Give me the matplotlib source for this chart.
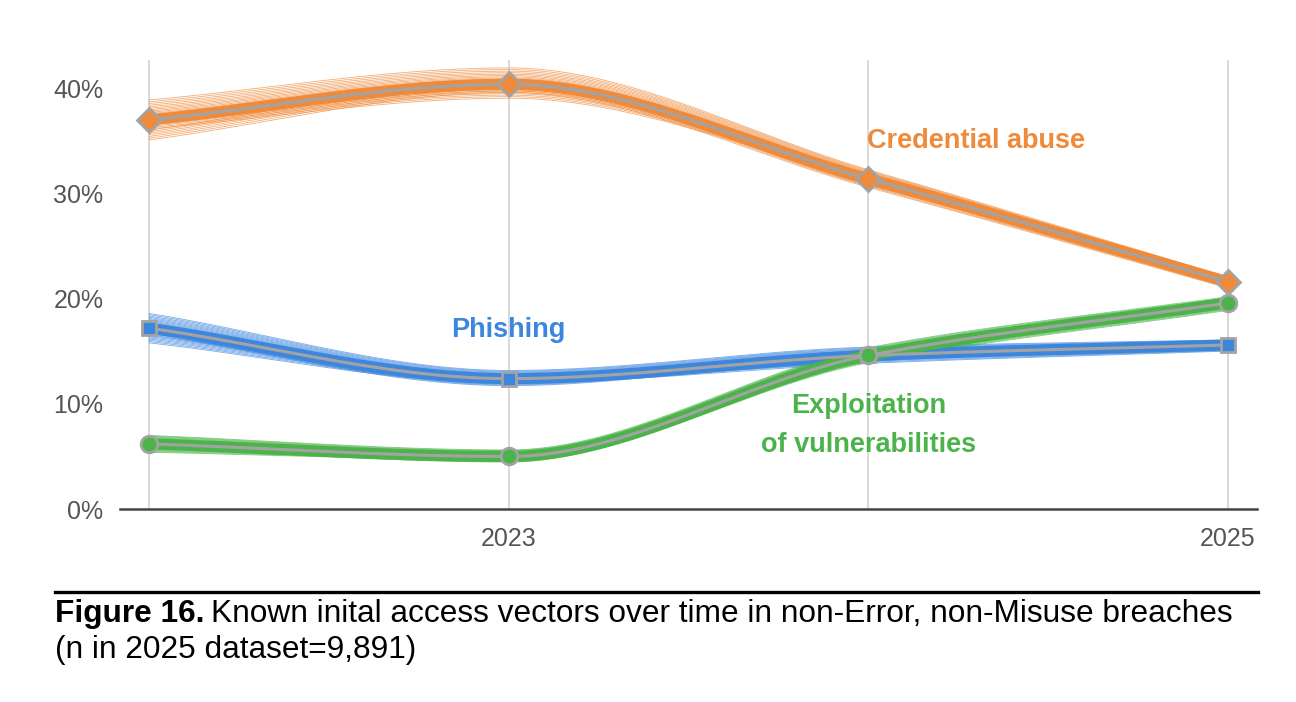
import numpy as np
import matplotlib.pyplot as plt

plt.rcParams['font.family'] = ['Liberation Sans', 'DejaVu Sans']

# data (percent)
years = [2022, 2023, 2024, 2025]
tick_years = [2023, 2025]
credential = [37.0, 40.4, 31.4, 21.6]
phishing = [17.2, 12.4, 14.6, 15.6]
exploitation = [6.2, 5.0, 14.6, 19.6]
# half-width of the spread of the thin sample lines at each year
credential_spread = [1.9, 2.0, 1.4, 0.9]
phishing_spread = [1.4, 1.0, 1.3, 0.9]
exploitation_spread = [0.8, 0.8, 1.2, 1.1]

orange = '#EF8A3A'
blue = '#3D86DE'
green = '#4CB34B'
grey = '#A3A3A3'


# monotone cubic (Fritsch-Carlson) for the smooth lines
def monotone(x, y, xs):
    x = np.asarray(x, float)
    y = np.asarray(y, float)
    h = np.diff(x)
    d = np.diff(y) / h
    m = np.zeros_like(y)
    m[0], m[-1] = d[0], d[-1]
    for i in range(1, len(y) - 1):
        if d[i - 1] * d[i] <= 0:
            m[i] = 0
        else:
            m[i] = 3 * (h[i - 1] + h[i]) / ((2 * h[i] + h[i - 1]) / d[i - 1] + (h[i] + 2 * h[i - 1]) / d[i])
    idx = np.clip(np.searchsorted(x, xs) - 1, 0, len(x) - 2)
    t = (xs - x[idx]) / h[idx]
    h00 = 2 * t**3 - 3 * t**2 + 1
    h10 = t**3 - 2 * t**2 + t
    h01 = -2 * t**3 + 3 * t**2
    h11 = t**3 - t**2
    return h00 * y[idx] + h10 * h[idx] * m[idx] + h01 * y[idx + 1] + h11 * h[idx] * m[idx + 1]


fig = plt.figure(figsize=(12.96, 7.02), dpi=100)
ax = fig.add_axes([0.0926, 0.2749, 0.8773, 0.6396])

xs = np.linspace(years[0], years[-1], 300)
series = [
    (credential, credential_spread, orange, 'D', 12),
    (phishing, phishing_spread, blue, 's', 10),
    (exploitation, exploitation_spread, green, 'o', 12),
]

n_thin = 36
base = np.linspace(-1, 1, n_thin)
fracs = np.sign(base) * np.abs(base) ** 1.6  # most lines near the middle, a few outliers
for vals, spread, color, marker, ms in series:
    vals = np.array(vals)
    spread = np.array(spread)
    for k, f in enumerate(fracs):
        # each thin line leans a little differently at each year so they cross
        g = np.array([f, np.roll(fracs, 7)[k], np.roll(fracs, 15)[k], np.roll(fracs, 23)[k]])
        g = 0.6 * f + 0.4 * g
        ax.plot(xs, monotone(years, vals + g * spread, xs), color=color, lw=0.6, alpha=0.7, zorder=2)
    ax.plot(xs, monotone(years, vals, xs), color=color, lw=8, solid_capstyle='butt', zorder=3)
    ax.plot(xs, monotone(years, vals, xs), color=grey, lw=2.2, zorder=4)
    ax.plot(years, vals, linestyle='none', marker=marker, ms=ms, mfc=color, mec=grey, mew=2, zorder=5)

ax.set_xlim(2021.919, 2025.081)
ax.set_ylim(0, 42.7)
for y in years:
    ax.axvline(y, color='#d9d9d9', lw=1.4, zorder=1)

ax.set_xticks(tick_years)
ax.set_xticklabels([str(y) for y in tick_years])
ax.set_yticks([0, 10, 20, 30, 40])
ax.set_yticklabels(['0%', '10%', '20%', '30%', '40%'])
ax.tick_params(axis='both', length=0, labelsize=18, colors='#555555')
ax.tick_params(axis='x', pad=13)
ax.tick_params(axis='y', pad=12)
for s in ['top', 'right', 'left']:
    ax.spines[s].set_visible(False)
ax.spines['bottom'].set_color('#444444')
ax.spines['bottom'].set_linewidth(1.8)

lab = dict(fontsize=19.5, fontweight='bold', ha='center', va='center')
ax.text(2024.30, 35.0, 'Credential abuse', color=orange, **lab)
ax.text(2023.0, 17.0, 'Phishing', color=blue, **lab)
ax.text(2024.0, 9.8, 'Exploitation', color=green, **lab)
ax.text(2024.0, 6.1, 'of vulnerabilities', color=green, **lab)

# caption
fig.add_artist(plt.Line2D([55 / 1296, 1258 / 1296], [1 - 592 / 702] * 2, color='black', lw=2.4))
t1 = fig.text(55 / 1296, 1 - 614 / 702, 'Figure 16.', fontsize=22.8, fontweight='bold', va='center')
fig.canvas.draw()
bb = t1.get_window_extent()
fig.text(bb.x1 / 1296 + 0.005, 1 - 614 / 702,
         'Known inital access vectors over time in non-Error, non-Misuse breaches',
         fontsize=22.8, va='center')
fig.text(55 / 1296, 1 - 650 / 702, '(n in 2025 dataset=9,891)', fontsize=22.8, va='center')

fig.savefig('out.png', dpi=100)
